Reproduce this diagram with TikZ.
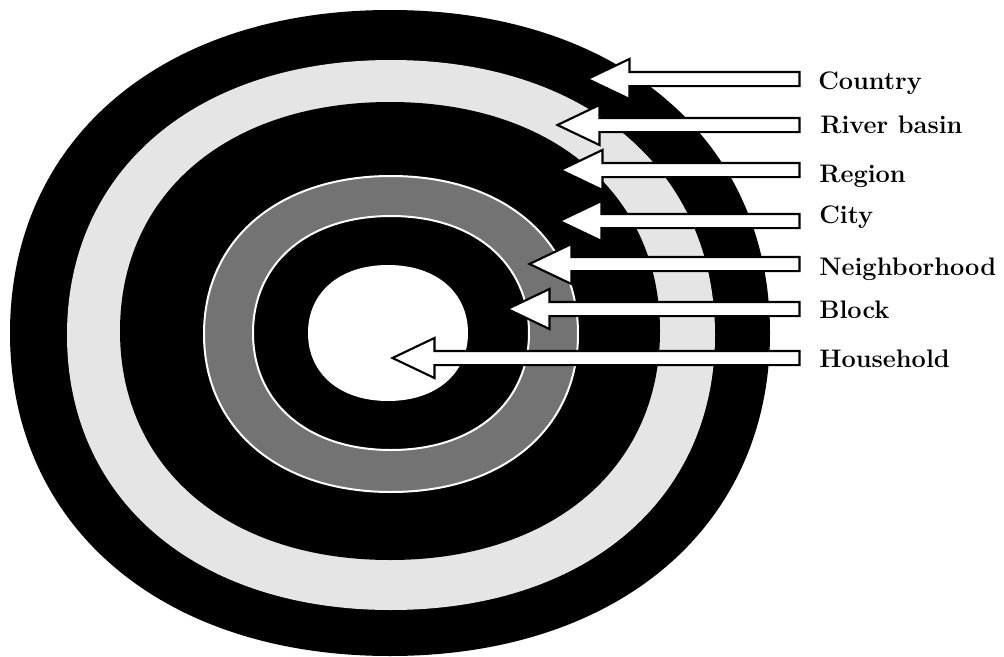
\documentclass[tikz,border=0pt]{standalone}
\usetikzlibrary{shapes.arrows}
\newcommand\kk{0.6}
\newcommand\blob[4]{%
 ({#1+#3},{#2}) .. controls ({#1+#3},{#2+\kk*#4}) and ({#1+\kk*#3},{#2+#4}) .. ({#1},{#2+#4})
 .. controls ({#1-\kk*#3},{#2+#4}) and ({#1-#3},{#2+\kk*#4}) .. ({#1-#3},{#2})
 .. controls ({#1-#3},{#2-\kk*#4}) and ({#1-\kk*#3},{#2-#4}) .. ({#1},{#2-#4})
 .. controls ({#1+\kk*#3},{#2-#4}) and ({#1+#3},{#2-\kk*#4}) .. ({#1+#3},{#2}) -- cycle}
\definecolor{lightring}{gray}{0.9}
\definecolor{hatchring}{gray}{0.45}
\tikzset{
  label/.style={anchor=base west, inner sep=0pt, font=\fontsize{19}{22}\selectfont\bfseries},
  pointer/.style={single arrow, shape border rotate=180, draw=black, fill=white,
    line width=1.6pt, inner xsep=0pt, inner ysep=4.5pt, minimum width=28.5pt,
    single arrow head extend=9.75pt, single arrow tip angle=51, anchor=tip}
}
\begin{document}
\begin{tikzpicture}[x=0.75pt,y=-0.75pt]
\useasboundingbox (0,0) rectangle (1004,657);
\fill[white] (0,0) rectangle (1004,657);
% rings
\fill[black] \blob{390}{333}{380}{323};
\fill[lightring] \blob{391}{335}{324}{275};
\fill[black] \blob{390}{331}{270}{229};
\filldraw[fill=hatchring, draw=white, line width=1.5pt] \blob{391}{334}{187}{158};
\filldraw[fill=black, draw=white, line width=1.5pt] \blob{391}{333}{138}{117};
\fill[white] \blob{388}{333}{80}{68};
% pointers
\node[pointer, minimum height=159pt]    (aCountry) at (585,79)  {};
\node[pointer, minimum height=181.5pt]  (aRiver)   at (555,125) {};
\node[pointer, minimum height=179.25pt] (aRegion)  at (558,170) {};
\node[pointer, minimum height=180pt]    (aCity)    at (557,221) {};
\node[pointer, minimum height=202.5pt]  (aNeigh)   at (527,264) {};
\node[pointer, minimum height=219pt]    (aBlock)   at (505,309) {};
\node[pointer, minimum height=305.25pt] (aHouse)   at (390,358) {};
% labels
\node[label] (lCountry) at (818,89)  {Country};
\node[label] (lRiver)   at (820,133) {River basin};
\node[label] (lRegion)  at (819,182) {Region};
\node[label] (lCity)    at (819,223) {City};
\node[label] (lNeigh)   at (819,275) {Neighborhood};
\node[label] (lBlock)   at (819,318) {Block};
\node[label] (lHouse)   at (819,367) {Household};
\end{tikzpicture}
\end{document}
